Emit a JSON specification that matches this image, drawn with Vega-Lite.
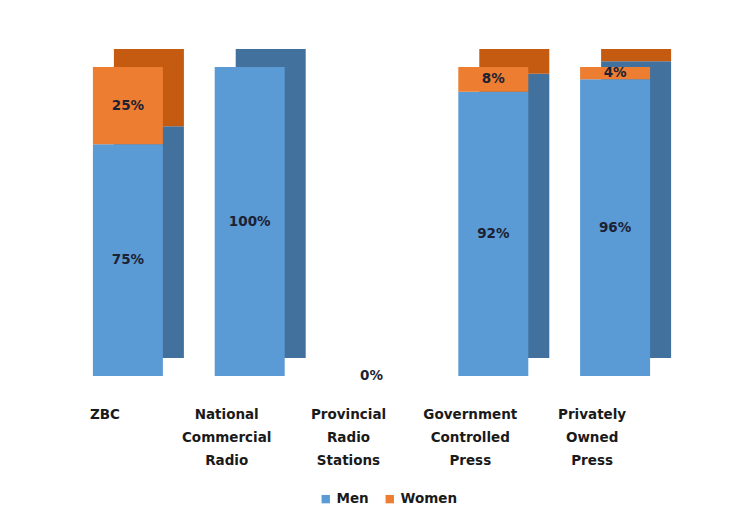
{
  "$schema": "https://vega.github.io/schema/vega-lite/v6.json",
  "width": 609,
  "height": 309,
  "autosize": {"type": "none"},
  "padding": {"left": 67, "top": 67, "right": 76, "bottom": 146},
  "background": "white",
  "data": {
    "values": [
      {"outlet": "ZBC", "gender": "Men", "value": 75, "label": "75%"},
      {"outlet": "ZBC", "gender": "Women", "value": 25, "label": "25%"},
      {"outlet": "National Commercial Radio", "gender": "Men", "value": 100, "label": "100%"},
      {"outlet": "National Commercial Radio", "gender": "Women", "value": 0, "label": ""},
      {"outlet": "Provincial Radio Stations", "gender": "Men", "value": 0, "label": ""},
      {"outlet": "Provincial Radio Stations", "gender": "Women", "value": 0, "label": "0%"},
      {"outlet": "Government Controlled Press", "gender": "Men", "value": 92, "label": "92%"},
      {"outlet": "Government Controlled Press", "gender": "Women", "value": 8, "label": "8%"},
      {"outlet": "Privately Owned Press", "gender": "Men", "value": 96, "label": "96%"},
      {"outlet": "Privately Owned Press", "gender": "Women", "value": 4, "label": "4%"}
    ]
  },
  "encoding": {
    "x": {
      "field": "outlet",
      "type": "nominal",
      "sort": null,
      "title": null,
      "scale": {"paddingInner": 0, "paddingOuter": 0},
      "axis": {
        "labelExpr": "split(datum.label, ' ')",
        "labelAngle": 0,
        "labelFont": "DejaVu Sans",
        "labelFontWeight": "bold",
        "labelFontSize": 13.5,
        "labelColor": "#1a1a1a",
        "labelLineHeight": 23,
        "labelBaseline": "top",
        "labelPadding": 31,
        "labelOffset": -23,
        "domain": false,
        "ticks": false,
        "grid": false
      }
    }
  },
  "layer": [
    {
      "mark": {"type": "bar", "width": 70, "xOffset": 21, "yOffset": -18},
      "encoding": {
        "y": {"field": "value", "type": "quantitative", "stack": "zero", "scale": {"domain": [0, 100]}, "axis": null},
        "order": {"field": "gender", "sort": "ascending"},
        "color": {
          "field": "gender",
          "type": "nominal",
          "scale": {"domain": ["Men", "Women"], "range": ["#41719c", "#c55a11"]},
          "legend": null
        }
      }
    },
    {
      "mark": {"type": "bar", "width": 70},
      "encoding": {
        "y": {"field": "value", "type": "quantitative", "stack": "zero", "scale": {"domain": [0, 100]}, "axis": null},
        "order": {"field": "gender", "sort": "ascending"},
        "color": {
          "field": "gender",
          "type": "nominal",
          "scale": {"domain": ["Men", "Women"], "range": ["#5b9bd5", "#ed7d31"]},
          "legend": {
            "title": null,
            "orient": "none",
            "direction": "horizontal",
            "legendX": 252,
            "legendY": 425,
            "symbolType": "square",
            "symbolSize": 70,
            "symbolStrokeWidth": 0,
            "labelFont": "DejaVu Sans",
            "labelFontWeight": "bold",
            "labelFontSize": 13.5,
            "labelColor": "#1a1a1a",
            "columnPadding": 14,
            "labelOffset": 4
          }
        }
      }
    },
    {
      "mark": {"type": "text", "font": "DejaVu Sans", "fontWeight": "bold", "fontSize": 13.5, "color": "#1c2233", "baseline": "middle"},
      "encoding": {
        "y": {"field": "value", "type": "quantitative", "stack": "zero", "bandPosition": 0.5},
        "order": {"field": "gender", "sort": "ascending"},
        "detail": {"field": "gender"},
        "text": {"field": "label"}
      }
    }
  ],
  "resolve": {"scale": {"color": "independent"}},
  "config": {"view": {"stroke": null}}
}
